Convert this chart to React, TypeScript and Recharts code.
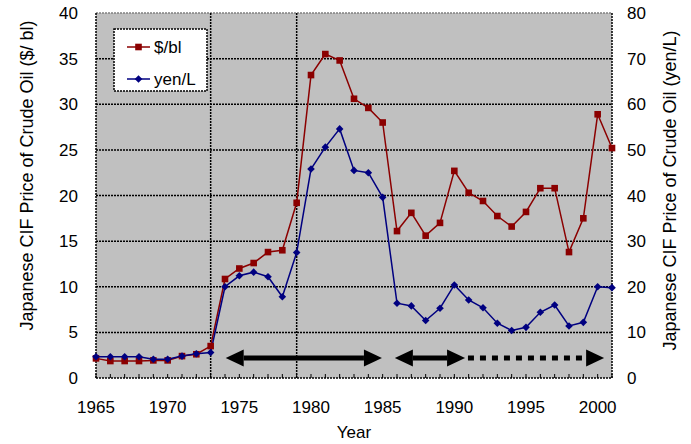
import * as React from 'react';
import {
  CartesianGrid,
  Label,
  Legend,
  Line,
  LineChart,
  ReferenceLine,
  XAxis,
  YAxis,
} from 'recharts';

// chart values
const years = [
  1965, 1966, 1967, 1968, 1969, 1970, 1971, 1972, 1973, 1974, 1975, 1976, 1977,
  1978, 1979, 1980, 1981, 1982, 1983, 1984, 1985, 1986, 1987, 1988, 1989, 1990,
  1991, 1992, 1993, 1994, 1995, 1996, 1997, 1998, 1999, 2000, 2001,
];
const dollarsPerBarrel = [
  2.15, 1.86, 1.86, 1.86, 1.93, 1.93, 2.4, 2.6, 3.5, 10.85, 12.0, 12.6, 13.8,
  14.0, 19.2, 33.2, 35.5, 34.8, 30.6, 29.6, 28.0, 16.1, 18.1, 15.6, 17.0, 22.7,
  20.3, 19.4, 17.75, 16.6, 18.2, 20.8, 20.8, 13.8, 17.5, 28.9, 25.2,
];
const yenPerLitre = [
  4.67, 4.67, 4.67, 4.67, 4.1, 4.1, 4.8, 5.3, 5.6, 20.0, 22.4, 23.2, 22.2, 17.8,
  27.5, 45.8, 50.6, 54.6, 45.5, 45.0, 39.6, 16.4, 15.8, 12.6, 15.3, 20.4, 17.1,
  15.4, 12.0, 10.4, 11.1, 14.4, 16.0, 11.4, 12.2, 20.0, 19.8,
];
const leftTicks = [0, 5, 10, 15, 20, 25, 30, 35, 40];
const rightTicks = [0, 10, 20, 30, 40, 50, 60, 70, 80];
const gridValues = [5, 10, 15, 20, 25, 30, 35];
const shockYears = [1973, 1979];

// period arrows (year span, drawn at $/bl level)
const arrowFrom = [1974.05, 1985.85, 1990.95];
const arrowTo = [1984.95, 1990.75, 2000.45];
const arrowHeadStart = [true, true, false];
const arrowHeadEnd = [true, true, true];
const arrowDotted = [false, false, true];
const arrowLevel = 2.2;

const RED = '#8b0000';
const BLUE = '#000080';
const FONT = '"Liberation Sans", Arial, sans-serif';

const rows = years.map((year, i) => ({
  year,
  usd: dollarsPerBarrel[i],
  yen: yenPerLitre[i],
}));

const SquareDot = (props: any) => {
  const { cx, cy, index } = props;
  if (cx == null || cy == null) return null;
  return <rect key={`sq-${index}`} x={cx - 3.3} y={cy - 3.3} width={6.6} height={6.6} fill={RED} />;
};

const DiamondDot = (props: any) => {
  const { cx, cy, index } = props;
  if (cx == null || cy == null) return null;
  const r = 3.8;
  return (
    <polygon
      key={`dm-${index}`}
      points={`${cx},${cy - r} ${cx + r},${cy} ${cx},${cy + r} ${cx - r},${cy}`}
      fill={BLUE}
    />
  );
};

const makeArrow = (i: number) => (p: any) => {
  const { x1, y1, x2 } = p;
  if (x1 == null) return <g />;
  const headLen = 18;
  const headHalf = 8.5;
  const sx = arrowHeadStart[i] ? x1 + headLen : x1;
  const ex = arrowHeadEnd[i] ? x2 - headLen : x2;
  return (
    <g>
      <line
        x1={sx}
        y1={y1}
        x2={ex}
        y2={y1}
        stroke="#000"
        strokeWidth={5}
        strokeDasharray={arrowDotted[i] ? '6 6' : undefined}
      />
      {arrowHeadStart[i] && (
        <polygon
          points={`${x1},${y1} ${x1 + headLen},${y1 - headHalf} ${x1 + headLen},${y1 + headHalf}`}
          fill="#000"
        />
      )}
      {arrowHeadEnd[i] && (
        <polygon
          points={`${x2},${y1} ${x2 - headLen},${y1 - headHalf} ${x2 - headLen},${y1 + headHalf}`}
          fill="#000"
        />
      )}
    </g>
  );
};

const LegendBox = () => (
  <svg width={95} height={64} style={{ display: 'block' }}>
    <rect x={1} y={1} width={93} height={62} fill="#fff" stroke="#000" strokeWidth={1.5} strokeDasharray="2 1" />
    <line x1={14} y1={19} x2={37} y2={19} stroke={RED} strokeWidth={1.5} />
    <rect x={22.2} y={15.7} width={6.6} height={6.6} fill={RED} />
    <text x={41} y={19} dominantBaseline="central" fontSize={17} fontFamily={FONT} fill="#000">
      $/bl
    </text>
    <line x1={14} y1={51} x2={37} y2={51} stroke={BLUE} strokeWidth={1.5} />
    <polygon points="25.5,47.2 29.3,51 25.5,54.8 21.7,51" fill={BLUE} />
    <text x={41} y={51} dominantBaseline="central" fontSize={17} fontFamily={FONT} fill="#000">
      yen/L
    </text>
  </svg>
);

const axisTitle = (text: string, dx: number, dy: number) => (props: any) => {
  const vb = props.viewBox || {};
  const cx = vb.x + dx;
  const cy = vb.y + vb.height / 2 + dy;
  return (
    <text
      transform={`translate(${cx}, ${cy}) rotate(-90)`}
      textAnchor="middle"
      dominantBaseline="central"
      fontSize={18}
      fontFamily={FONT}
      fill="#000"
    >
      {text}
    </text>
  );
};

const tickStyle = { fontSize: 17, fontFamily: FONT, fill: '#000' };

export default function App() {
  return (
    <div style={{ width: 691, height: 444, background: '#fff' }}>
      <style>{'body{margin:0}'}</style>
      <LineChart
        width={691}
        height={444}
        data={rows}
        margin={{ top: 13, right: 0, left: 0, bottom: 0 }}
      >
        <CartesianGrid
          yAxisId="left"
          vertical={false}
          horizontalValues={gridValues}
          stroke="#000"
          strokeWidth={1.5}
          strokeDasharray="2 1"
          fill="#c0c0c0"
          fillOpacity={1}
        />
        <XAxis
          dataKey="year"
          type="number"
          domain={[1965, 2001]}
          ticks={years}
          interval={0}
          tickFormatter={(v) => (v % 5 === 0 ? String(v) : '')}
          tick={tickStyle}
          tickSize={-4}
          tickMargin={27}
          tickLine={{ stroke: '#000' }}
          axisLine={{ stroke: '#000', strokeWidth: 1.5, strokeDasharray: '2 1' }}
          height={66}
        >
          <Label value="Year" position="insideBottom" offset={6} style={tickStyle} />
        </XAxis>
        <YAxis
          yAxisId="left"
          domain={[0, 40]}
          ticks={leftTicks}
          interval={0}
          width={96}
          tick={tickStyle}
          tickLine={false}
          tickSize={0}
          tickMargin={18}
          axisLine={{ stroke: '#000', strokeWidth: 1.5, strokeDasharray: '2 1' }}
        >
          <Label content={axisTitle('Japanese CIF Price of Crude Oil ($/ bl)', 27, -20)} />
        </YAxis>
        <YAxis
          yAxisId="right"
          orientation="right"
          domain={[0, 80]}
          ticks={rightTicks}
          interval={0}
          width={79}
          tick={{ ...tickStyle, textAnchor: 'start' }}
          tickLine={false}
          tickSize={0}
          tickMargin={15}
          axisLine={{ stroke: '#000', strokeWidth: 1.5, strokeDasharray: '2 1' }}
        >
          <Label content={axisTitle('Japanese CIF Price of Crude Oil (yen/L)', 58, -5)} />
        </YAxis>
        <ReferenceLine
          yAxisId="left"
          y={40}
          stroke="#808080"
          strokeWidth={1.5}
          strokeDasharray="2 1"
        />
        {shockYears.map((yr) => (
          <ReferenceLine
            key={yr}
            yAxisId="left"
            x={yr}
            stroke="#000"
            strokeWidth={1.5}
            strokeDasharray="2 1"
          />
        ))}
        {arrowFrom.map((from, i) => (
          <ReferenceLine
            key={`arrow-${i}`}
            yAxisId="left"
            segment={[
              { x: from, y: arrowLevel },
              { x: arrowTo[i], y: arrowLevel },
            ]}
            shape={makeArrow(i)}
          />
        ))}
        <Line
          yAxisId="left"
          dataKey="usd"
          name="$/bl"
          stroke={RED}
          strokeWidth={1.5}
          dot={SquareDot}
          activeDot={false}
          isAnimationActive={false}
        />
        <Line
          yAxisId="right"
          dataKey="yen"
          name="yen/L"
          stroke={BLUE}
          strokeWidth={1.5}
          dot={DiamondDot}
          activeDot={false}
          isAnimationActive={false}
        />
        <Legend
          layout="vertical"
          align="center"
          verticalAlign="middle"
          content={() => <LegendBox />}
          wrapperStyle={{ left: 113, top: 28, width: 95, height: 64 }}
        />
      </LineChart>
    </div>
  );
}
